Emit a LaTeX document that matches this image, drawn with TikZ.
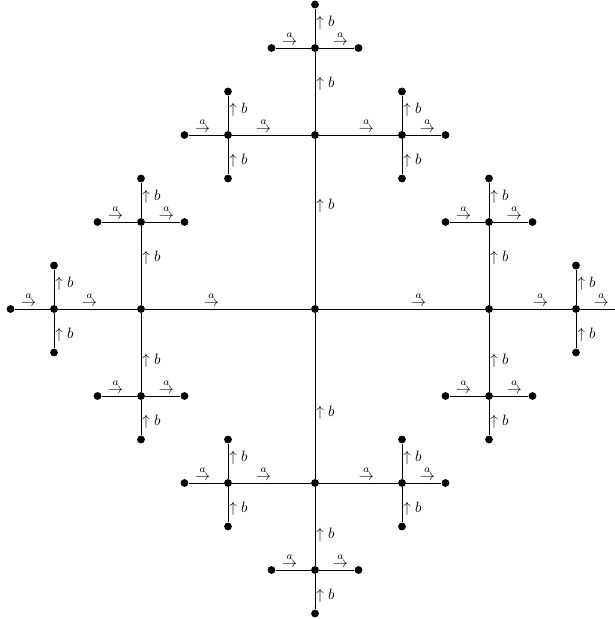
\documentclass[tikz,border=0pt]{standalone}
\usepackage{amsmath}
\begin{document}
\begin{tikzpicture}[x=0.66667pt,y=0.66667pt,
  dot/.style={circle,fill=black,inner sep=0pt,minimum size=5.2pt},
  edge/.style={draw=black,line width=0.4pt},
  hlab/.style={pos=0.6,anchor=base,inner sep=0pt,yshift=1.6pt},
  vlab/.style={pos=0.6,anchor=west,inner sep=0.8pt},
  lbl1/.style={hlab},lbl3/.style={hlab},
  lbl2/.style={vlab},lbl4/.style={vlab}]
\clip (-315,-310) rectangle (300,309);
\node[dot] (n0) at (0,0) {};
\foreach \d/\dx/\dy/\opA in {1/1/0/3, 2/0/1/4, 3/-1/0/1, 4/0/-1/2} {
  \node[dot] (n\d) at ({174*(\dx)},{174*(\dy)}) {};
  \path[edge] (n0) -- node[lbl\d] {\ifodd\d $\overset{a}{\to}$\else $\uparrow b$\fi} (n\d);
  \foreach \e/\ex/\ey/\opB in {1/1/0/3, 2/0/1/4, 3/-1/0/1, 4/0/-1/2} {
    \ifnum\e=\opA\relax\else
      \node[dot] (n\d\e) at ([shift={({87*(\ex)},{87*(\ey)})}]n\d) {};
      \path[edge] (n\d) -- node[lbl\e] {\ifodd\e $\overset{a}{\to}$\else $\uparrow b$\fi} (n\d\e);
      \foreach \f/\fx/\fy/\opC in {1/1/0/3, 2/0/1/4, 3/-1/0/1, 4/0/-1/2} {
        \ifnum\f=\opB\relax\else
          \node[dot] (n\d\e\f) at ([shift={({43.5*(\fx)},{43.5*(\fy)})}]n\d\e) {};
          \path[edge] (n\d\e) -- node[lbl\f] {\ifodd\f $\overset{a}{\to}$\else $\uparrow b$\fi} (n\d\e\f);
        \fi
      }
    \fi
  }
}
\end{tikzpicture}
\end{document}
